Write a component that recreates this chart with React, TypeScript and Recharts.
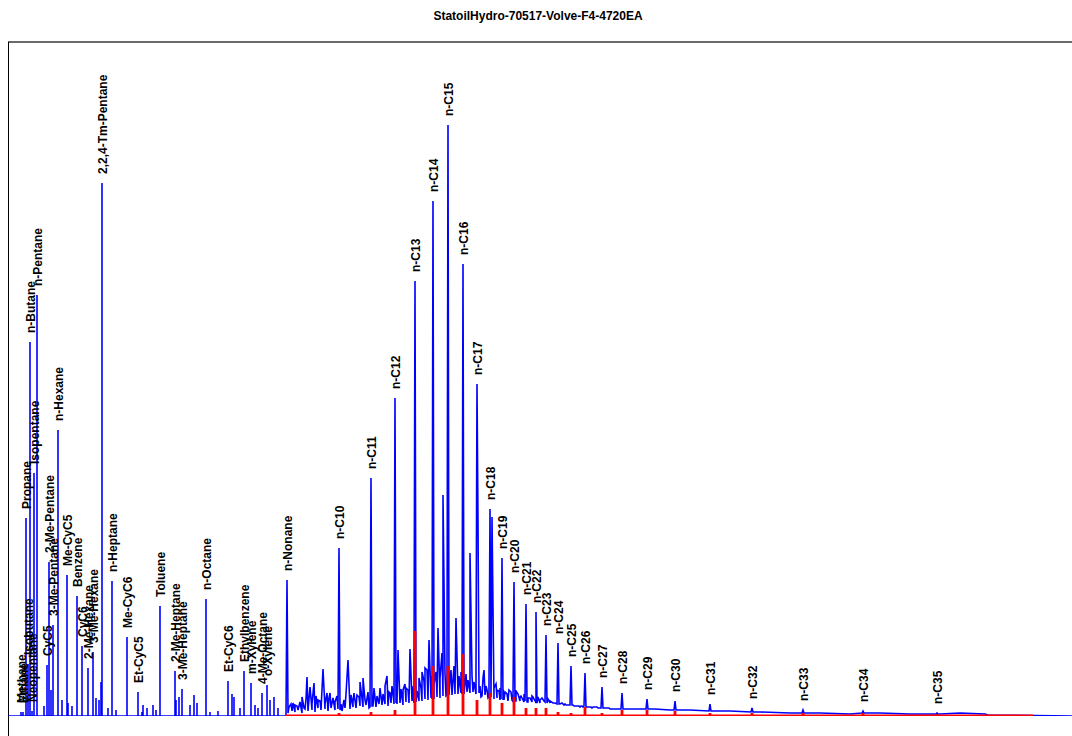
import React from 'react';
import { ComposedChart, Line, Scatter, XAxis, YAxis } from 'recharts';

const TITLE = 'StatoilHydro-70517-Volve-F4-4720EA';

// Named peaks: retention position (scan units) and intensity (counts)
const peakNames = [
  'Methane', 'Ethane', 'Propane', 'Isobutane', 'n-Butane', 'Neopentane', 'Isopentane', 'n-Pentane',
  'CyC5', '2-Me-Pentane', '3-Me-Pentane', 'n-Hexane', 'Me-CyC5', 'Benzene', 'CyC6', '2-Me-Hexane',
  '3-Me-Hexane', '2,2,4-Tm-Pentane', 'n-Heptane', 'Me-CyC6', 'Et-CyC5', 'Toluene', '2-Me-Heptane',
  '3-Me-Heptane', 'n-Octane', 'Et-CyC6', 'Ethylbenzene', 'm-Xylene', '4-Me-Octane', 'o-Xylene', 'n-Nonane',
  'n-C10', 'n-C11', 'n-C12', 'n-C13', 'n-C14', 'n-C15', 'n-C16', 'n-C17', 'n-C18', 'n-C19', 'n-C20',
  'n-C21', 'n-C22', 'n-C23', 'n-C24', 'n-C25', 'n-C26', 'n-C27', 'n-C28', 'n-C29', 'n-C30', 'n-C31',
  'n-C32', 'n-C33', 'n-C34', 'n-C35',
];
const peakTimes = [
  13, 15, 18, 20, 22, 24, 26, 29,
  39, 41, 45, 50, 59, 69, 74, 80,
  85, 94, 104, 119, 130, 152, 167,
  174, 198, 220, 236, 243, 254, 259, 279,
  331, 363, 387, 407, 425, 440, 455, 469, 482, 494, 506,
  518, 528, 538, 550, 563, 577, 594, 614, 639, 667, 702,
  744, 795, 855, 929,
];
const peakHeights = [
  4, 4, 198, 52, 374, 5, 243, 421,
  51, 154, 91, 286, 141, 120, 70, 48,
  64, 533, 135, 79, 24, 110, 45,
  27, 117, 35, 45, 33, 23, 31, 136,
  168, 238, 318, 435, 515, 591, 452, 332, 207, 158, 134,
  112, 104, 81, 73, 50, 43, 29, 23, 17, 15, 12,
  8, 6, 5, 3,
];

// Unnamed minor peaks
const minorTimes = [
  36, 43, 54, 60, 64, 88, 91, 93, 100, 108, 134, 135, 139, 145, 148, 168, 171, 182, 186, 189,
  202, 210, 224, 226, 232, 247, 250, 262, 266, 270, 285, 287, 294, 299, 302, 306, 310, 315, 319,
  322, 325, 340, 343, 346, 349, 352, 355, 372, 377, 379, 382, 385, 390, 395, 398, 400, 402, 414,
  417, 419, 421, 430, 434, 435, 443, 448, 462, 470, 473, 476, 479, 484, 489, 492, 497, 501, 510,
  513, 522, 525, 532, 534, 542, 545, 554, 558, 568, 572, 584, 602,
];
const minorHeights = [
  10, 26, 16, 13, 10, 18, 16, 34, 8, 6, 4, 11, 8, 11, 6, 16, 19, 11, 21, 13,
  4, 5, 22, 19, 8, 11, 8, 16, 19, 8, 13, 11, 19, 39, 29, 33, 16, 47, 23,
  23, 18, 56, 21, 23, 21, 34, 38, 28, 30, 40, 23, 23, 66, 26, 28, 26, 67, 44,
  48, 46, 76, 88, 63, 221, 46, 98, 163, 194, 19, 46, 26, 199, 26, 28, 24, 26, 22,
  20, 18, 19, 16, 18, 15, 13, 13, 11, 10, 9, 8, 7,
];

// Fine noise spikes riding on the hump
const noiseTimes = [
  281, 283, 289, 292, 296, 298, 304, 308, 312, 317, 321, 327, 329, 333, 336, 338, 345, 351, 357, 360,
  366, 369, 375, 381, 384, 388, 393, 397, 404, 406, 409, 411, 413, 416, 423, 426, 428, 432, 437, 439,
  442, 446, 451, 453, 458, 460, 464, 466, 468, 472, 475, 478, 481, 486, 488, 491, 495, 499, 503, 505,
  508, 512, 516, 520, 524, 527, 530, 536, 540, 547, 551, 556, 561, 566, 575, 590,
];
const noiseHeights = [
  9, 12, 10, 14, 8, 17, 12, 20, 15, 12, 18, 14, 20, 12, 16, 22, 14, 19, 16, 24,
  28, 20, 22, 24, 30, 22, 27, 32, 30, 36, 25, 38, 28, 35, 40, 32, 44, 38, 42, 48,
  36, 50, 40, 44, 42, 36, 40, 34, 45, 30, 38, 30, 34, 28, 32, 25, 27, 22, 24, 20,
  25, 19, 22, 18, 20, 16, 19, 15, 17, 13, 12, 11, 11, 10, 9, 8,
];

// Unresolved complex hump (baseline rise) under the late peaks
const humpTimes = [
  277, 278, 280, 284, 287, 290, 294, 297, 300, 304, 307, 310, 313, 317, 320, 323, 327, 330, 332, 334, 337,
  342, 345, 348, 352, 355, 358, 361, 362, 364, 365, 368, 371, 374, 377, 380, 383, 386, 388, 389, 392, 395, 398,
  401, 404, 406, 408, 411, 414, 417, 420, 423, 424, 426, 429, 432, 435, 438, 439, 441, 444, 447, 450, 453, 454, 456,
  459, 462, 465, 468, 471, 474, 477, 480, 481, 483, 486, 489, 492, 493, 495, 496, 500, 504, 505, 507, 508, 512, 516,
  517, 519, 520, 524, 527, 528, 529, 532, 537, 539, 542, 547, 549, 551, 552, 557, 562, 564, 565, 567, 569, 571, 573,
  574, 576, 578, 580, 583, 585, 587, 589, 591, 593, 595, 597, 601, 603, 607, 613, 615, 617, 632, 638, 640, 647, 662,
  666, 668, 682, 701, 703, 722, 743, 745, 752, 782, 794, 796, 812, 842, 854, 856, 872, 902,
  928, 930, 932, 952, 977, 980,
];
const humpHeights = [
  0, 1, 3, 5, 4, 6, 3, 7, 5, 6, 4, 8, 6, 7, 5, 8, 6, 7, 6, 5, 8,
  7, 9, 8, 10, 9, 11, 8, 9, 10, 10, 9, 12, 11, 12, 10, 13, 12, 13, 12, 13, 11, 14, 13,
  15, 13, 14, 15, 15, 17, 16, 18, 17, 17, 19, 18, 20, 20, 21, 21, 21, 22, 22, 23, 22, 22, 24,
  23, 24, 22, 23, 20, 21, 18, 19, 19, 17, 18, 16, 17, 16, 16, 15, 16, 14, 15, 15, 15, 14, 15,
  14, 14, 14, 15, 13, 13, 13, 14, 13, 13, 13, 12, 12, 12, 12, 11, 11, 11, 10, 10, 10, 10, 10,
  10, 9, 9, 9, 9, 9, 9, 8, 8, 8, 8, 8, 7, 7, 7, 7, 7, 7, 7, 7, 7, 6, 6,
  6, 6, 5, 5, 5, 4, 4, 4, 3, 3, 3, 3, 2, 3, 3, 3, 2, 2,
  2, 2, 3, 2, 1, 0,
];

// Red n-alkane reference trace (n-C10 .. n-C35)
const redTimes = [
  331, 363, 387, 407, 425, 440, 455, 469, 482, 494, 506, 518, 528,
  538, 550, 563, 577, 594, 614, 639, 667, 702, 744, 795, 855, 929,
];
const redHeights = [
  3, 4, 6, 85, 50, 50, 62, 16, 23, 13, 19, 8, 8,
  8, 4, 3, 9, 3, 6, 6, 5, 3, 3, 3, 3, 2,
];
const redStart = 277;
const redEnd = 1025;
const X_MAX = 1064;
const Y_MAX = 674;

type Pt = { t: number; v: number; name?: string };

const humpFrom = humpTimes[0];
const humpTo = humpTimes[humpTimes.length - 1];

const allPeaks: Pt[] = [
  ...peakTimes.map((t, i) => ({ t, v: peakHeights[i] })),
  ...minorTimes.map((t, i) => ({ t, v: minorHeights[i] })),
  ...noiseTimes.map((t, i) => ({ t, v: noiseHeights[i] })),
].sort((a, b) => a.t - b.t);

// Early region: isolated spikes on a flat baseline
const blueData: Pt[] = [{ t: 0, v: 0 }];
allPeaks.filter((p) => p.t < humpFrom).forEach((p) => {
  blueData.push({ t: p.t, v: 0 }, { t: p.t, v: p.v }, { t: p.t, v: 0 });
});
// Late region: peaks riding on the hump trace (merged in time order)
const merged: Pt[] = [
  ...humpTimes.map((t, i) => ({ t, v: humpHeights[i] })),
  ...allPeaks.filter((p) => p.t >= humpFrom && p.t <= humpTo),
].sort((a, b) => a.t - b.t);
blueData.push(...merged);
allPeaks.filter((p) => p.t > humpTo).forEach((p) => {
  blueData.push({ t: p.t, v: 0 }, { t: p.t, v: p.v }, { t: p.t, v: 0 });
});
blueData.push({ t: X_MAX, v: 0 });

const redData: Pt[] = [{ t: redStart, v: 0 }];
redTimes.forEach((t, i) => {
  redData.push({ t, v: 0 }, { t, v: redHeights[i] }, { t, v: 0 });
});
redData.push({ t: redEnd, v: 0 });

const labelData: Pt[] = peakNames.map((name, i) => ({ t: peakTimes[i], v: peakHeights[i], name }));

const LabelShape = (props: any) => {
  const { cx, cy, payload } = props;
  if (cx == null || cy == null) return null;
  const x = cx + 1;
  const y = cy - 9;
  return (
    <text
      x={x}
      y={y}
      transform={`rotate(-90 ${x} ${y})`}
      textAnchor="start"
      dominantBaseline="central"
      fontSize={12}
      fontWeight="bold"
      fontFamily="Arial, 'Liberation Sans', sans-serif"
      fill="#000"
    >
      {payload.name}
    </text>
  );
};

export default function App() {
  return (
    <div style={{ position: 'absolute', left: 0, top: 0, width: 1072, height: 736, background: '#fff', overflow: 'hidden' }}>
      <div
        style={{
          position: 'absolute', left: 0, top: 9, width: 1076, textAlign: 'center',
          fontFamily: "Arial, 'Liberation Sans', sans-serif", fontWeight: 'bold', fontSize: 12, lineHeight: '14px', color: '#000',
        }}
      >
        {TITLE}
      </div>
      <div style={{ position: 'absolute', left: 8, top: 41, width: 1064, height: 2, background: '#6a6a6a' }} />
      <div style={{ position: 'absolute', left: 8, top: 42, width: 1, height: 694, background: '#000' }} />
      <div style={{ position: 'absolute', left: 0, top: 0 }}>
        <ComposedChart width={1072} height={736} margin={{ top: 42, right: 0, bottom: 20, left: 8 }}>
          <XAxis type="number" dataKey="t" domain={[0, X_MAX]} hide allowDataOverflow />
          <YAxis type="number" dataKey="v" domain={[0, Y_MAX]} hide allowDataOverflow />
          <Line data={blueData} dataKey="v" type="linear" stroke="#0000ff" strokeWidth={1.6} dot={false} activeDot={false} isAnimationActive={false} />
          <Line data={redData} dataKey="v" type="linear" stroke="#ff0000" strokeWidth={2.8} dot={false} activeDot={false} isAnimationActive={false} />
          <Scatter data={labelData} dataKey="v" shape={LabelShape} isAnimationActive={false} />
        </ComposedChart>
      </div>
    </div>
  );
}
